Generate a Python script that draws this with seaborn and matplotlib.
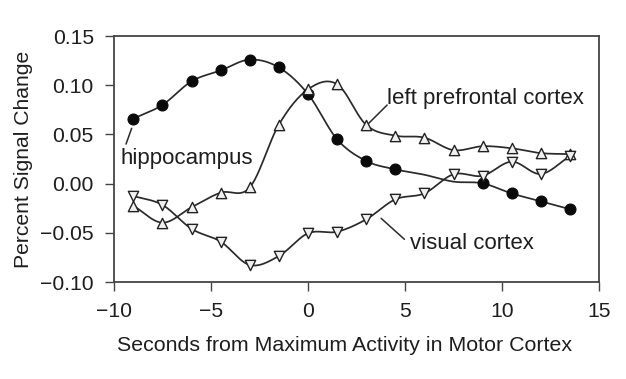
import numpy as np
import pandas as pd
import matplotlib
matplotlib.use("Agg")
import matplotlib.pyplot as plt
import seaborn as sns

# seconds relative to the motor cortex peak
times = [-9, -7.5, -6, -4.5, -3, -1.5, 0, 1.5, 3, 4.5, 6, 7.5, 9, 10.5, 12, 13.5]

hippocampus = [0.066, 0.080, 0.104, 0.115, 0.126, 0.118, 0.091, 0.045,
               0.023, 0.0145, 0.009, 0.002, 0.0003, -0.010, -0.018, -0.026]
prefrontal = [-0.0225, -0.0397, -0.024, -0.0092, -0.0038, 0.060, 0.0958, 0.101,
              0.0596, 0.0487, 0.0467, 0.034, 0.038, 0.0359, 0.031, 0.030]
visual = [-0.0126, -0.0217, -0.046, -0.059, -0.0827, -0.0736, -0.0505, -0.0489,
          -0.0363, -0.016, -0.0099, 0.0095, 0.008, 0.0223, 0.0098, 0.028]

# hippocampus has no markers drawn at 6 s and 7.5 s in the original
hippo_marked = [i for i in range(len(times)) if i not in (10, 11)]

xticks = [-10, -5, 0, 5, 10, 15]
yticks = [-0.10, -0.05, 0.00, 0.05, 0.10, 0.15]

line_col = '#2a2a2a'
text_col = '#1e1e1e'
axis_col = '#454545'


def smooth(x, y, n=24):
    # catmull-rom curve through the points (spreadsheet style smoothed line)
    x = np.asarray(x, float)
    y = np.asarray(y, float)
    px = np.r_[2 * x[0] - x[1], x, 2 * x[-1] - x[-2]]
    py = np.r_[2 * y[0] - y[1], y, 2 * y[-1] - y[-2]]
    t = np.linspace(0, 1, n, endpoint=False)
    xs, ys = [], []
    for i in range(1, len(px) - 2):
        for p, out in ((px, xs), (py, ys)):
            p0, p1, p2, p3 = p[i - 1], p[i], p[i + 1], p[i + 2]
            out.append(0.5 * (2 * p1 + (p2 - p0) * t
                              + (2 * p0 - 5 * p1 + 4 * p2 - p3) * t ** 2
                              + (3 * p1 - p0 - 3 * p2 + p3) * t ** 3))
    xs.append([x[-1]])
    ys.append([y[-1]])
    return pd.DataFrame({'t': np.concatenate(xs), 'v': np.concatenate(ys)})


sns.set_style('ticks')
plt.rcParams['font.family'] = ['Liberation Sans', 'DejaVu Sans']
plt.rcParams['font.size'] = 15

fig = plt.figure(figsize=(6.26, 3.79), dpi=100)
ax = fig.add_axes([0.1821, 0.2559, 0.7748, 0.6491])

for series in (hippocampus, prefrontal, visual):
    sns.lineplot(data=smooth(times, series), x='t', y='v', sort=False,
                 estimator=None, color=line_col, lw=1.25, ax=ax, zorder=2)

t_arr = np.array(times)
sns.scatterplot(x=t_arr[hippo_marked], y=np.array(hippocampus)[hippo_marked],
                marker='o', s=62, color='#0a0a0a', edgecolor='#0a0a0a',
                linewidth=0.8, ax=ax, zorder=3)
sns.scatterplot(x=times, y=prefrontal, marker='^', s=55, color='#f0f0f0',
                edgecolor='#222222', linewidth=1.0, ax=ax, zorder=3)
sns.scatterplot(x=times, y=visual, marker='v', s=55, color='#f0f0f0',
                edgecolor='#222222', linewidth=1.0, ax=ax, zorder=3)

# labels with short leader lines
labels = [
    ('left prefrontal cortex', (3.13, 0.0613), (4.08, 0.0799), (4.07, 0.0867)),
    ('hippocampus', (-9.09, 0.0562), (-9.38, 0.0402), (-9.64, 0.0257)),
    ('visual cortex', (3.77, -0.0353), (4.97, -0.0566), (5.28, -0.0607)),
]
for txt, a, b, pos in labels:
    ax.plot([a[0], b[0]], [a[1], b[1]], color=line_col, lw=1.1)
    ax.text(pos[0], pos[1], txt, ha='left', va='center', color=text_col,
            fontsize=16)

ax.set_xlim(-10, 15)
ax.set_ylim(-0.10, 0.15)
ax.set_xticks(xticks)
ax.set_yticks(yticks)
ax.set_xticklabels([f'{v:g}'.replace('-', '\u2212') for v in xticks])
ax.set_yticklabels([f'{v:.2f}'.replace('-', '\u2212') for v in yticks])

ax.set_xlabel('Seconds from Maximum Activity in Motor Cortex', color=text_col,
              fontsize=15.4, labelpad=11)
ax.xaxis.label.set_x(0.476)
ax.set_ylabel('Percent Signal Change', color=text_col, fontsize=15.2,
              labelpad=5)

for side in ('left', 'right', 'top', 'bottom'):
    ax.spines[side].set_visible(True)
    ax.spines[side].set_color(axis_col)
    ax.spines[side].set_linewidth(1.3)
ax.tick_params(axis='both', direction='out', length=6.5, width=1.0,
               color=axis_col, labelcolor=text_col, labelsize=15.2, pad=8)

fig.savefig('out.png', dpi=100)
plt.close(fig)
